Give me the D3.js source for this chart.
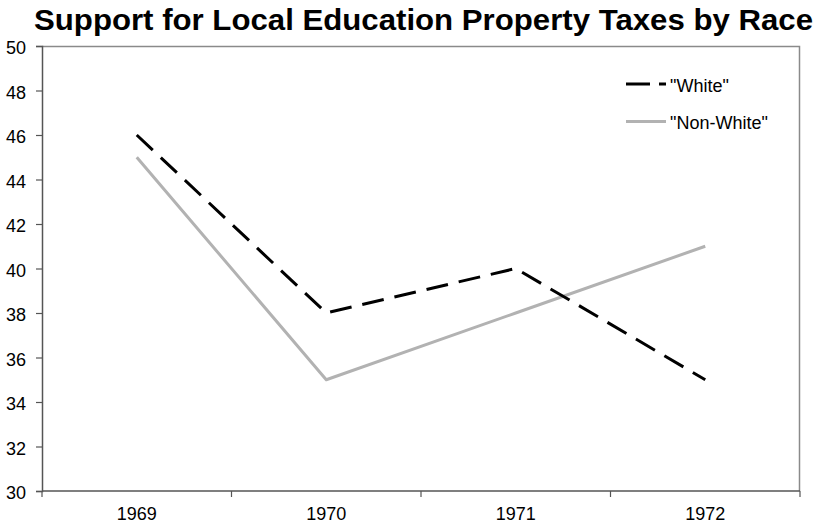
<!DOCTYPE html>
<html>
<head>
<meta charset="utf-8">
<script src="https://cdn.jsdelivr.net/npm/d3@7"></script>
<style>
  html, body { margin: 0; padding: 0; background: #fff; }
  svg { display: block; font-family: "Liberation Sans", Arial, sans-serif; }
</style>
</head>
<body>
<svg id="chart" width="817" height="524"></svg>
<script>
// Years and survey percentages
const years = ["1969", "1970", "1971", "1972"];
const whiteValues = [46, 38, 40, 35];
const nonWhiteValues = [45, 35, 38, 41];
const yTicks = [30, 32, 34, 36, 38, 40, 42, 44, 46, 48, 50];

const series = [
  { name: "\"White\"", values: whiteValues, color: "#000", dash: "22,11" },
  { name: "\"Non-White\"", values: nonWhiteValues, color: "#b2b2b2", dash: null }
];

const margin = { top: 46, right: 17, bottom: 33, left: 42 };
const width = 817, height = 524;
const svg = d3.select("#chart");
const labelFont = 18;

const x = d3.scaleBand().domain(years).range([margin.left, width - margin.right]);
const y = d3.scaleLinear().domain([30, 50]).range([height - margin.bottom, margin.top]);

// Frame (top and right edges)
svg.append("path")
  .attr("d", `M${margin.left},${margin.top + 0.5}H${width - margin.right - 0.5}V${height - margin.bottom}`)
  .attr("fill", "none").attr("stroke", "#8a8a8a").attr("stroke-width", 1.5);

// Title
svg.append("text")
  .attr("x", 34)
  .attr("y", 30)
  .attr("font-weight", "bold")
  .attr("font-size", 29)
  .attr("textLength", 779)
  .attr("lengthAdjust", "spacingAndGlyphs")
  .text("Support for Local Education Property Taxes by Race");

// Y axis
const yAxis = svg.append("g")
  .attr("transform", `translate(${margin.left},0)`)
  .call(d3.axisLeft(y).tickValues(yTicks).tickSize(6).tickPadding(10));
yAxis.selectAll("text")
  .attr("font-size", labelFont).attr("fill", "#000")
  .attr("font-family", "Liberation Sans, Arial, sans-serif")
  .attr("dy", "0.42em");
yAxis.select(".domain").attr("stroke", "#555").attr("stroke-width", 1.5);
yAxis.selectAll(".tick line").attr("stroke", "#555").attr("stroke-width", 1.2);

// X axis: ticks at band boundaries, labels at band centres
const xAxisG = svg.append("g").attr("transform", `translate(0,${height - margin.bottom})`);
xAxisG.append("line")
  .attr("x1", margin.left).attr("x2", width - margin.right)
  .attr("stroke", "#555").attr("stroke-width", 1.5);
const bounds = years.map(d => x(d)).concat([x.range()[1]]);
xAxisG.selectAll("line.tk").data(bounds).join("line")
  .attr("class", "tk")
  .attr("x1", d => d).attr("x2", d => d)
  .attr("y1", 0).attr("y2", 6)
  .attr("stroke", "#555").attr("stroke-width", 1.2);
xAxisG.selectAll("text").data(years).join("text")
  .attr("x", d => x(d) + x.bandwidth() / 2)
  .attr("y", 29)
  .attr("text-anchor", "middle")
  .attr("font-size", labelFont)
  .text(d => d);

// Lines
const line = d3.line()
  .x((d, i) => x(years[i]) + x.bandwidth() / 2)
  .y(d => y(d));

series.slice().reverse().forEach(s => {
  svg.append("path")
    .datum(s.values)
    .attr("d", line)
    .attr("fill", "none")
    .attr("stroke", s.color)
    .attr("stroke-width", 3)
    .attr("stroke-linejoin", "round")
    .attr("stroke-dasharray", s.dash);
});

// Legend
const legend = svg.append("g").attr("transform", "translate(626,84)");
series.forEach((s, i) => {
  const g = legend.append("g").attr("transform", `translate(0,${i * 37.5})`);
  g.append("line")
    .attr("x1", 0).attr("x2", 40)
    .attr("stroke", s.color).attr("stroke-width", 3)
    .attr("stroke-dasharray", s.dash ? "24,9" : null);
  g.append("text")
    .attr("x", 44).attr("y", 7.5)
    .attr("font-size", labelFont)
    .text(s.name);
});
</script>
</body>
</html>
